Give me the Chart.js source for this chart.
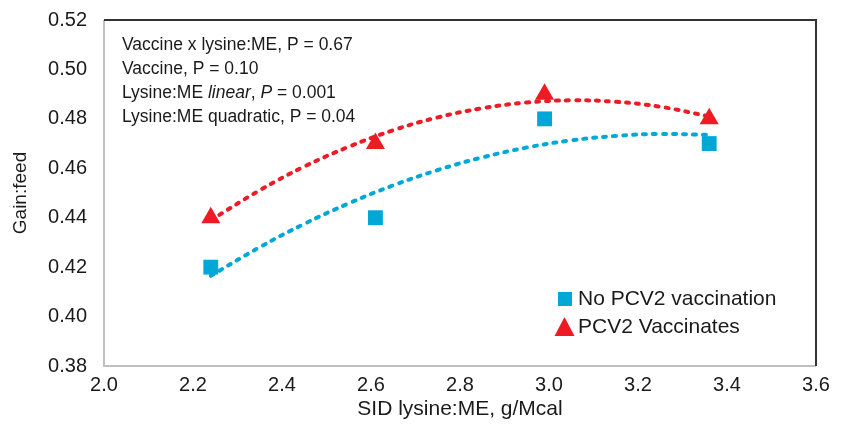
<!DOCTYPE html>
<html>
<head>
<meta charset="utf-8">
<script src="https://cdn.jsdelivr.net/npm/chart.js@4.4.1/dist/chart.umd.min.js"></script>
<style>
html,body{margin:0;padding:0;background:#fff;}
#wrap{width:843px;height:433px;}
</style>
</head>
<body>
<div id="wrap"><canvas id="c" width="843" height="433"></canvas></div>
<script>
// Data
const lysineME = [2.24, 2.61, 2.99, 3.36];
const noVaccination = [0.42, 0.44, 0.48, 0.47];
const vaccinates = [0.44, 0.47, 0.49, 0.48];
// Quadratic trend lines
const trendX = [2.24, 2.35, 2.45, 2.55, 2.65, 2.75, 2.85, 2.95, 3.05, 3.15, 3.25, 3.36];
const trendNoVacc = [0.4165, 0.4281, 0.4375, 0.4458, 0.4531, 0.4593, 0.4644, 0.4684, 0.4713, 0.4731, 0.4739, 0.4735];
const trendVacc = [0.4390, 0.4511, 0.4607, 0.4687, 0.4754, 0.4806, 0.4843, 0.4866, 0.4875, 0.4869, 0.4849, 0.4810];
const xTicks = [2.0, 2.2, 2.4, 2.6, 2.8, 3.0, 3.2, 3.4, 3.6];
const yTicks = [0.38, 0.40, 0.42, 0.44, 0.46, 0.48, 0.50, 0.52];
const seriesNames = ["No PCV2 vaccination", "PCV2 Vaccinates"];
const statLines = [
  [["Vaccine x lysine:ME, P = 0.67", false]],
  [["Vaccine, P = 0.10", false]],
  [["Lysine:ME ", false], ["linear", true], [", ", false], ["P", true], [" = 0.001", false]],
  [["Lysine:ME quadratic, P = 0.04", false]]
];

const BLUE = "#00a8d8";
const RED = "#ed1c24";
const FONT = "'Liberation Sans', Arial, sans-serif";
const pts = (xs, ys) => xs.map((x, i) => ({x: x, y: ys[i]}));

const framePlugin = {
  id: 'frame',
  beforeDatasetsDraw(chart) {
    const a = chart.chartArea, ctx = chart.ctx;
    ctx.save();
    ctx.lineWidth = 2;
    ctx.strokeStyle = "#c0c0c0";
    ctx.beginPath();
    ctx.moveTo(a.left, a.top); ctx.lineTo(a.left, a.bottom); ctx.lineTo(a.right, a.bottom);
    ctx.stroke();
    ctx.strokeStyle = "#333";
    ctx.beginPath();
    ctx.moveTo(a.left, a.top); ctx.lineTo(a.right, a.top); ctx.lineTo(a.right, a.bottom);
    ctx.stroke();
    ctx.restore();
  },
  afterDatasetsDraw(chart) {
    const ctx = chart.ctx;
    ctx.save();
    // stats text
    ctx.fillStyle = "#1a1a1a";
    ctx.textBaseline = "middle";
    const ys = [45, 69, 93, 117];
    statLines.forEach((line, i) => {
      let x = 122;
      line.forEach(([t, it]) => {
        ctx.font = (it ? "italic " : "") + "17.5px " + FONT;
        ctx.fillText(t, x, ys[i]);
        x += ctx.measureText(t).width;
      });
    });
    // legend
    ctx.font = "21px " + FONT;
    ctx.fillStyle = BLUE;
    ctx.fillRect(558, 292, 14, 14);
    ctx.fillStyle = RED;
    ctx.beginPath();
    ctx.moveTo(564.5, 317); ctx.lineTo(574.5, 336); ctx.lineTo(554.5, 336); ctx.closePath();
    ctx.fill();
    ctx.fillStyle = "#1a1a1a";
    ctx.fillText(seriesNames[0], 578, 299);
    ctx.fillText(seriesNames[1], 578, 327);
    ctx.restore();
  }
};

new Chart(document.getElementById('c'), {
  type: 'scatter',
  data: {
    datasets: [
      {label: seriesNames[0] + " trend", data: pts(trendX, trendNoVacc), showLine: true, tension: 0.4,
       borderColor: BLUE, borderWidth: 4, borderDash: [3, 7], borderCapStyle: 'round', pointRadius: 0, order: 0},
      {label: seriesNames[1] + " trend", data: pts(trendX, trendVacc), showLine: true, tension: 0.4,
       borderColor: RED, borderWidth: 4, borderDash: [3, 7], borderCapStyle: 'round', pointRadius: 0, order: 0},
      {label: seriesNames[0], data: pts(lysineME, noVaccination), pointStyle: 'rect', pointRadius: 10.5,
       backgroundColor: BLUE, borderColor: BLUE, borderWidth: 0, order: 1},
      {label: seriesNames[1], data: pts(lysineME, vaccinates), pointStyle: 'triangle', pointRadius: 11,
       backgroundColor: RED, borderColor: RED, borderWidth: 0, order: 1}
    ]
  },
  options: {
    responsive: false,
    animation: false,
    layout: {padding: {top: 20, right: 27, left: 0, bottom: 0}},
    plugins: {legend: {display: false}, tooltip: {enabled: false}},
    scales: {
      x: {
        type: 'linear', min: 2.0, max: 3.6,
        afterBuildTicks: s => { s.ticks = xTicks.map(v => ({value: v})); },
        afterFit: s => { s.height = 67; s.paddingLeft = 0; s.paddingRight = 0; },
        grid: {display: false, drawTicks: false},
        border: {display: false},
        ticks: {padding: 7, color: "#1a1a1a", font: {family: FONT, size: 20}, callback: v => v.toFixed(1), maxRotation: 0},
        title: {display: true, text: "SID lysine:ME, g/Mcal", color: "#1a1a1a", font: {family: FONT, size: 21}, padding: {top: 0, bottom: 11}}
      },
      y: {
        type: 'linear', min: 0.38, max: 0.52,
        afterBuildTicks: s => { s.ticks = yTicks.map(v => ({value: v})); },
        afterFit: s => { s.width = 104; s.paddingTop = 0; s.paddingBottom = 0; },
        grid: {display: false, drawTicks: false},
        border: {display: false},
        ticks: {padding: 17, color: "#1a1a1a", font: {family: FONT, size: 20}, callback: v => v.toFixed(2)},
        title: {display: true, text: "Gain:feed", color: "#1a1a1a", font: {family: FONT, size: 19}, padding: {top: 9, bottom: 0}}
      }
    }
  },
  plugins: [framePlugin]
});
</script>
</body>
</html>
